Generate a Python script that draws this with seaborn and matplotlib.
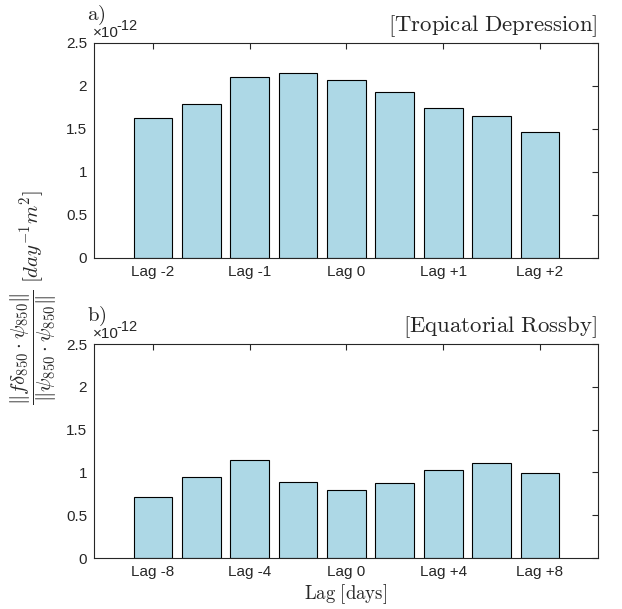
import pandas as pd
import matplotlib
matplotlib.use('Agg')
import matplotlib.pyplot as plt
import seaborn as sns
from matplotlib.ticker import FuncFormatter

# values, in units of 1e-12
td_lags = ['Lag -2', '', 'Lag -1', '', 'Lag 0', '', 'Lag +1', '', 'Lag +2']
td_vals = [1.63, 1.79, 2.10, 2.15, 2.07, 1.93, 1.74, 1.65, 1.465]

er_lags = ['Lag -8', '', 'Lag -4', '', 'Lag 0', '', 'Lag +4', '', 'Lag +8']
er_vals = [0.716, 0.946, 1.148, 0.891, 0.80, 0.879, 1.03, 1.113, 0.992]

yticks = [0, 0.5, 1, 1.5, 2, 2.5]

sns.set_style('white')
plt.rcParams['font.family'] = ['Liberation Sans', 'DejaVu Sans']
plt.rcParams['mathtext.fontset'] = 'cm'

fig = plt.figure(figsize=(6.22, 6.09), dpi=100)
ax1 = fig.add_axes([0.1511, 0.5764, 0.8103, 0.353])
ax2 = fig.add_axes([0.1511, 0.0837, 0.8103, 0.3514])


def draw_panel(ax, lags, vals, letter, title):
    df = pd.DataFrame({'pos': range(len(vals)), 'val': vals})
    sns.barplot(data=df, x='pos', y='val', color='#add8e6', saturation=1,
                edgecolor='black', linewidth=0.8, width=0.8, ax=ax)
    ax.set_xlim(-1.22, len(vals) - 1 + 1.2)
    ax.set_ylim(0, 2.5)
    ax.set_yticks(yticks)
    ax.yaxis.set_major_formatter(FuncFormatter(lambda v, p: '%g' % v))
    ticks = [i for i, l in enumerate(lags) if l != '']
    ax.set_xticks(ticks)
    ax.set_xticklabels([lags[i] for i in ticks])
    ax.set_xlabel('')
    ax.set_ylabel('')
    ax.tick_params(direction='in', top=True, right=True, length=4.5,
                   width=0.8, color='#262626', labelcolor='#262626',
                   labelsize=11, pad=5)
    for s in ax.spines.values():
        s.set_color('#262626')
        s.set_linewidth(0.8)
    # x10^-12 multiplier, drawn as two pieces
    ax.text(-0.003, 1.012, '\u00d710', transform=ax.transAxes,
            fontsize=11, color='#262626', ha='left', va='bottom')
    ax.text(0.044, 1.045, '-12', transform=ax.transAxes,
            fontsize=10.5, color='#262626', ha='left', va='bottom')
    ax.text(-0.014, 1.075, r'$\mathrm{' + letter + ')}$', transform=ax.transAxes,
            fontsize=15, ha='left', va='bottom')
    ax.text(0.998, 1.02, r'$\mathrm{[' + title.replace(' ', r'\ ') + ']}$',
            transform=ax.transAxes, fontsize=16.4, ha='right', va='bottom')


draw_panel(ax1, td_lags, td_vals, 'a', 'Tropical Depression')
draw_panel(ax2, er_lags, er_vals, 'b', 'Equatorial Rossby')

ax2.set_xlabel(r'$\mathrm{Lag\ [days]}$', fontsize=13.5, labelpad=2)
fig.text(0.054, 0.511,
         r'$\dfrac{\Vert f\delta_{850}\cdot\psi_{850}\Vert}{\Vert\psi_{850}\cdot\psi_{850}\Vert}\ [day^{-1}m^2]$',
         rotation=90, ha='center', va='center', fontsize=15)

fig.savefig('out.png', dpi=100)
